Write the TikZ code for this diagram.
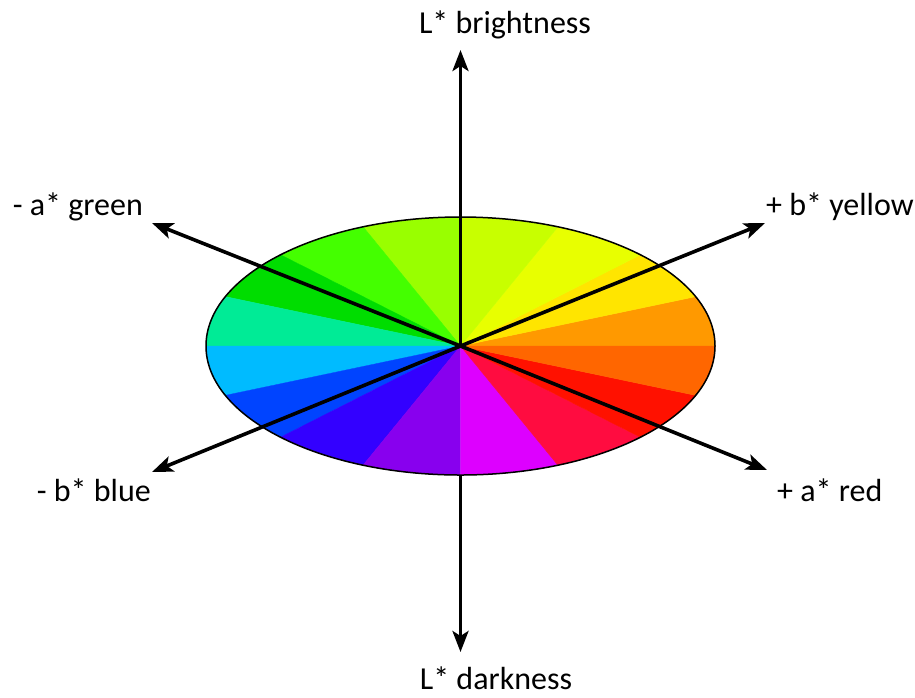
\documentclass[tikz,border=0pt]{standalone}
\usepackage{fontspec}
\setmainfont{Carlito}
\usetikzlibrary{arrows.meta}
\definecolor{s0}{HTML}{FF9900}
\definecolor{s1}{HTML}{FFE500}
\definecolor{s2}{HTML}{E8FF00}
\definecolor{s3}{HTML}{C8FF00}
\definecolor{s4}{HTML}{99FF00}
\definecolor{s5}{HTML}{44FF00}
\definecolor{s6}{HTML}{00DD00}
\definecolor{s7}{HTML}{00EB96}
\definecolor{s8}{HTML}{00BBFF}
\definecolor{s9}{HTML}{0044FF}
\definecolor{s10}{HTML}{3300FF}
\definecolor{s11}{HTML}{8800EE}
\definecolor{s12}{HTML}{DD00FF}
\definecolor{s13}{HTML}{FF0C40}
\definecolor{s14}{HTML}{FF1100}
\definecolor{s15}{HTML}{FF6600}
\begin{document}
\begin{tikzpicture}[x=1pt,y=-1pt,
  axis/.style={line width=3.6pt,-{Stealth[length=21pt,width=16pt,inset=5pt]}},
  lab/.style={font=\fontsize{32}{38}\selectfont, inner sep=0pt},
  rim/.style={line width=1.5pt}]
\useasboundingbox (0,0) rectangle (915,697);
\coordinate (O) at (460.5,346);
\coordinate (Ebot) at (460.5,475);
\coordinate (Ltop) at (460.5,50);
\coordinate (Lbot) at (460.5,652);
\coordinate (Ag) at (152,223);
\coordinate (Ar) at (767,470);
\coordinate (By) at (765,223);
\coordinate (Bb) at (152,472);
% lower half of L* axis, behind the disc
\draw[axis] (Ebot) -- (Lbot);
% colour sectors
\foreach \ta/\tb/\col in {0/22.5/s0, 22.5/45/s1, 45/67.5/s2, 67.5/90/s3,
  90/112.5/s4, 112.5/135/s5, 135/157.5/s6, 157.5/180/s7,
  180/202.5/s8, 202.5/225/s9, 225/247.5/s10, 247.5/270/s11,
  270/292.5/s12, 292.5/315/s13, 315/337.5/s14, 337.5/360/s15}
  \filldraw[fill=\col, draw=\col, line width=0.4pt] (O) -- plot[domain=\ta:\tb, samples=16]
    ({460.5+254.5*cos(\x)},{346-129*sin(\x)}) -- cycle;
\draw[rim] (O) ellipse [x radius=254.5, y radius=129];
% axes
\draw[axis] (O) -- (Ltop);
\draw[axis] (O) -- (Ag);
\draw[axis] (O) -- (Ar);
\draw[axis] (O) -- (By);
\draw[axis] (O) -- (Bb);
% labels
\node[lab, anchor=base] (tbr) at (505,33) {L* brightness};
\node[lab, anchor=base] (tdk) at (496,689) {L* darkness};
\node[lab, anchor=base east] (tgr) at (143,215) {- a* green};
\node[lab, anchor=base west] (tye) at (766,215) {+ b* yellow};
\node[lab, anchor=base east] (tbl) at (151,501) {- b* blue};
\node[lab, anchor=base west] (tre) at (777,501) {+ a* red};
\end{tikzpicture}
\end{document}
